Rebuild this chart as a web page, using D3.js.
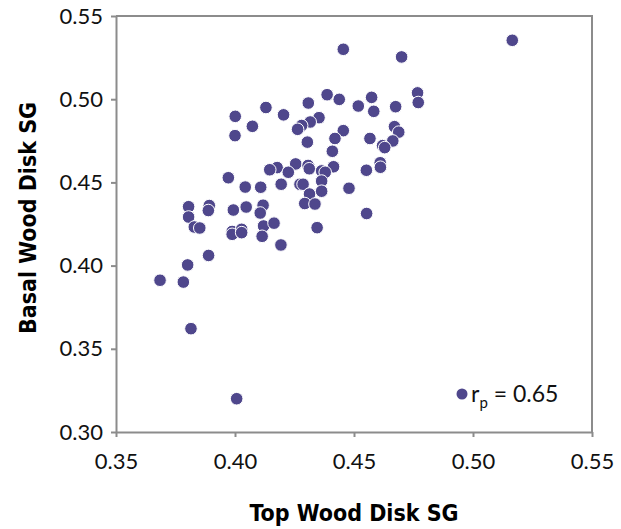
<!DOCTYPE html>
<html lang="en">
<head>
	<meta charset="UTF-8">
	<title>Wood disk SG</title>
	<script src="https://cdn.jsdelivr.net/npm/d3@7/dist/d3.min.js"></script>
	<style>
		html,body{
			margin:0;
			padding:0;
			background:#fff;
		}
		svg{
			display:block;
		}
		.tick text{
			font-family:Lato,"Open Sans",sans-serif;
			font-size:22px;
			fill:#111;
		}
		.axis-title{
			font-family:"Liberation Sans Narrow","DejaVu Sans Condensed",sans-serif;
			font-weight:bold;
			font-size:23px;
			fill:#000;
		}
	</style>
</head>
<body>
	<svg id="svg" width="621" height="529"></svg>
	<script>
		// top wood disk SG (x) vs basal wood disk SG (y)
		var topSG = [
			0.4455,0.4387,0.4438,0.4518,0.4308,0.4130,0.4001,0.4204,0.4353,0.4316,
			0.4280,0.4263,0.4073,0.4000,0.4455,0.4420,0.4304,0.4409,0.4414,0.4255,
			0.4307,0.4312,0.4177,0.4146,0.4224,0.4364,0.4379,0.4364,0.3972,0.4194,
			0.4273,0.4286,0.4479,0.4043,0.4108,0.4313,0.4364,0.4293,0.4336,0.3805,
			0.3892,0.3888,0.3805,0.3993,0.4047,0.4118,0.4106,0.3829,0.3852,0.3988,
			0.3988,0.4028,0.4028,0.4120,0.4164,0.4345,0.4114,0.4193,0.3889,0.3801,
			0.3685,0.3783,0.3815,0.4007,0.4700,0.5165,0.4767,0.4770,0.4574,0.4583,
			0.4675,0.4670,0.4688,0.4567,0.4663,0.4620,0.4629,0.4610,0.4611,0.4552,
			0.4553
		];
		var basalSG = [
			0.5300,0.5027,0.4999,0.4959,0.4977,0.4950,0.4897,0.4906,0.4889,0.4863,
			0.4842,0.4819,0.4837,0.4781,0.4811,0.4764,0.4742,0.4687,0.4594,0.4611,
			0.4602,0.4582,0.4589,0.4576,0.4561,0.4569,0.4561,0.4508,0.4528,0.4489,
			0.4489,0.4489,0.4465,0.4472,0.4471,0.4430,0.4447,0.4373,0.4370,0.4354,
			0.4361,0.4331,0.4292,0.4334,0.4352,0.4363,0.4316,0.4232,0.4226,0.4205,
			0.4188,0.4218,0.4198,0.4238,0.4255,0.4228,0.4176,0.4124,0.4061,0.4004,
			0.3912,0.3901,0.3621,0.3200,0.5254,0.5354,0.5038,0.4980,0.5011,0.4927,
			0.4955,0.4835,0.4802,0.4764,0.4749,0.4721,0.4709,0.4618,0.4591,0.4573,
			0.4313
		];
		var xTicks = [0.35,0.40,0.45,0.50,0.55];
		var yTicks = [0.30,0.35,0.40,0.45,0.50,0.55];
		var rP = "0.65";

		var svg = d3.select("#svg"),
			margin = {top:16,left:116},
			w = 476,
			h = 416,
			axisColor = "#8c8c8c",
			dotColor = "#4f478c";

		var xScale = d3.scaleLinear().domain([0.35,0.55]).range([0,w]);
		var yScale = d3.scaleLinear().domain([0.30,0.55]).range([h,0]);

		var g = svg.append("g")
			.attr("transform","translate("+margin.left+","+margin.top+")");

		// frame: top and right edges
		g.append("path")
			.attr("d","M0,0H"+w+"V"+h)
			.attr("fill","none")
			.attr("stroke",axisColor)
			.attr("stroke-width",2);

		var xAxis = g.append("g")
			.attr("transform","translate(0,"+h+")")
			.call(d3.axisBottom(xScale).tickValues(xTicks).tickFormat(d3.format(".2f"))
				.tickSizeInner(5).tickSizeOuter(0).tickPadding(16));

		var yAxis = g.append("g")
			.call(d3.axisLeft(yScale).tickValues(yTicks).tickFormat(d3.format(".2f"))
				.tickSizeInner(5).tickSizeOuter(0).tickPadding(8));

		[xAxis,yAxis].forEach((a)=>{
			a.select(".domain").attr("stroke",axisColor).attr("stroke-width",2);
			a.selectAll(".tick line").attr("stroke",axisColor).attr("stroke-width",2);
			a.selectAll(".tick text").attr("font-family",null).attr("font-size",null);
		})

		var data = topSG.map((d,i)=>{
			return {x:d,y:basalSG[i]}
		})

		g.append("g")
			.selectAll("circle")
			.data(data)
			.enter().append("circle")
			.attr("cx",(d)=>xScale(d.x))
			.attr("cy",(d)=>yScale(d.y))
			.attr("r",6.3)
			.attr("fill",dotColor)
			.attr("stroke","#fff")
			.attr("stroke-width",1);

		// legend
		var leg = g.append("g")
			.attr("transform","translate("+(w-130)+","+(h-38)+")");
		leg.append("circle")
			.attr("r",5.5)
			.attr("fill",dotColor);
		var lt = leg.append("text")
			.attr("x",9)
			.attr("y",8)
			.attr("font-family","Lato,'Open Sans',sans-serif")
			.attr("font-size",23)
			.attr("fill","#111");
		lt.append("tspan").text("r");
		lt.append("tspan").attr("font-size",15).attr("dy",6).text("p");
		lt.append("tspan").attr("dy",-6).text(" = "+rP);

		svg.append("text")
			.attr("class","axis-title")
			.attr("x",margin.left+w/2)
			.attr("y",521)
			.attr("text-anchor","middle")
			.text("Top Wood Disk SG");

		svg.append("text")
			.attr("class","axis-title")
			.attr("transform","translate(36,"+(margin.top+h/2-6)+") rotate(-90)")
			.attr("text-anchor","middle")
			.text("Basal Wood Disk SG");
	</script>
</body>
</html>
